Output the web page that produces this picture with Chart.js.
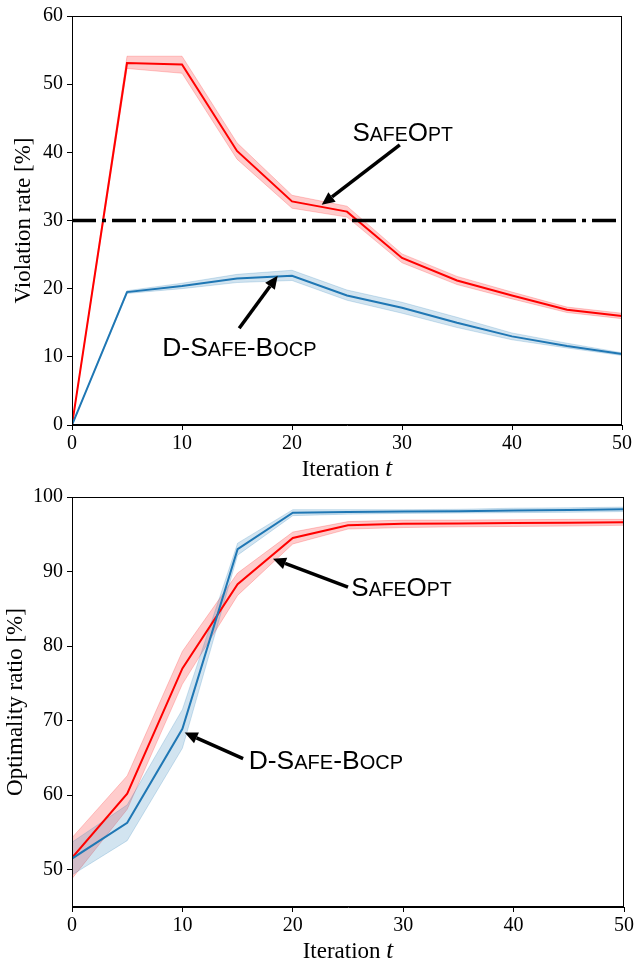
<!DOCTYPE html>
<html>
<head>
<meta charset="utf-8">
<script src="https://cdn.jsdelivr.net/npm/chart.js@4.4.1/dist/chart.umd.min.js"></script>
<style>
  body { margin: 0; background: #fff; }
  .panel { position: absolute; left: 0; width: 644px; height: 480px; }
</style>
</head>
<body>
<div class="panel" style="top:0"><canvas id="violationChart" width="644" height="480"></canvas></div>
<div class="panel" style="top:480px"><canvas id="optimalityChart" width="644" height="480"></canvas></div>
<script>
// shared x values (iteration t)
const iterations = [0, 5, 10, 15, 20, 25, 30, 35, 40, 45, 50];

// top panel: violation rate [%]
const violSafeOpt   = [0, 53.1, 52.9, 40.2, 32.8, 31.3, 24.5, 21.2, 19.0, 16.9, 16.0];
const violSafeOptLo = [0, 52.3, 51.6, 39.0, 31.8, 30.5, 23.8, 20.6, 18.5, 16.5, 15.6];
const violSafeOptHi = [0, 54.1, 54.1, 41.4, 33.7, 32.1, 25.1, 21.8, 19.5, 17.3, 16.4];
const violBocp      = [0, 19.5, 20.4, 21.5, 21.9, 19.0, 17.2, 15.0, 13.0, 11.6, 10.4];
const violBocpLo    = [0, 19.3, 20.0, 20.9, 21.2, 18.3, 16.4, 14.3, 12.5, 11.3, 10.2];
const violBocpHi    = [0, 19.7, 20.8, 22.1, 22.7, 19.8, 18.0, 15.8, 13.5, 12.0, 10.6];
const thresholdX = [0, 50];
const thresholdY = [30, 30];
const violTicks = [0, 10, 20, 30, 40, 50, 60];

// bottom panel: optimality ratio [%]
const optSafeOpt   = [51.6, 60.2, 77.0, 88.3, 94.5, 96.2, 96.4, 96.45, 96.5, 96.55, 96.6];
const optSafeOptLo = [48.8, 58.1, 74.9, 86.8, 93.7, 95.7, 95.9, 96.0, 96.05, 96.1, 96.2];
const optSafeOptHi = [54.3, 62.6, 79.3, 89.8, 95.3, 96.7, 96.9, 96.9, 96.95, 97.0, 97.0];
const optBocp      = [51.5, 56.3, 68.9, 93.0, 97.9, 98.0, 98.05, 98.1, 98.2, 98.25, 98.35];
const optBocpLo    = [49.3, 53.9, 66.3, 92.2, 97.5, 97.7, 97.8, 97.85, 97.9, 97.95, 98.05];
const optBocpHi    = [53.7, 58.7, 71.5, 93.8, 98.3, 98.3, 98.3, 98.35, 98.5, 98.55, 98.65];
const optTicks = [50, 60, 70, 80, 90, 100];

const xTicks = [0, 10, 20, 30, 40, 50];

const RED = '#ff0000';
const RED_BAND = 'rgba(255, 0, 0, 0.2)';
const BLUE = '#1f77b4';
const BLUE_BAND = 'rgba(31, 119, 180, 0.2)';
const SERIF = '"Liberation Serif", "Times New Roman", serif';
const SANS = '"Liberation Sans", Arial, sans-serif';

const pts = (xs, ys) => xs.map((x, i) => ({ x: x, y: ys[i] }));

function lineSet(data, color, order) {
    return { data: pts(iterations, data), borderColor: color, borderWidth: 2, pointRadius: 0, fill: false, tension: 0, order: order };
}
function bandSets(lo, hi, color, order) {
    return [
        { data: pts(iterations, lo), borderColor: color, backgroundColor: color, borderWidth: 1, pointRadius: 0, fill: false, tension: 0, order: order },
        { data: pts(iterations, hi), borderColor: color, backgroundColor: color, borderWidth: 1, pointRadius: 0, fill: '-1', tension: 0, order: order }
    ];
}

// frame, axis titles and arrow annotations
const decorPlugin = {
    id: 'decor',
    afterDraw(chart) {
        const cfg = chart.options.plugins.decor;
        const ctx = chart.ctx;
        const a = chart.chartArea;
        const xs = chart.scales.x, ys = chart.scales.y;
        ctx.save();
        ctx.strokeStyle = '#000';
        ctx.lineWidth = 1;
        ctx.strokeRect(a.left + 0.5, a.top + 0.5, a.right - a.left - 1, a.bottom - a.top - 1);

        // x title with italic t
        ctx.fillStyle = '#000';
        ctx.textBaseline = 'alphabetic';
        ctx.font = '23px ' + SERIF;
        const w1 = ctx.measureText('Iteration ').width;
        ctx.font = 'italic 25px ' + SERIF;
        const w2 = ctx.measureText('t').width;
        let tx = (a.left + a.right) / 2 - (w1 + w2) / 2;
        const ty = a.bottom + 51;
        ctx.font = '23px ' + SERIF;
        ctx.fillText('Iteration ', tx, ty);
        ctx.font = 'italic 25px ' + SERIF;
        ctx.fillText('t', tx + w1, ty);

        // y title
        ctx.save();
        ctx.translate(cfg.yTitleX, (a.top + a.bottom) / 2);
        ctx.rotate(-Math.PI / 2);
        ctx.font = '23px ' + SERIF;
        ctx.textAlign = 'center';
        ctx.textBaseline = 'middle';
        ctx.fillText(cfg.yTitle, 0, 0);
        ctx.restore();

        // annotations
        cfg.notes.forEach(n => {
            const x0 = xs.getPixelForValue(n.tail[0]), y0 = ys.getPixelForValue(n.tail[1]);
            const x1 = xs.getPixelForValue(n.tip[0]), y1 = ys.getPixelForValue(n.tip[1]);
            const ang = Math.atan2(y1 - y0, x1 - x0);
            const head = 13, half = 6;
            const bx = x1 - head * Math.cos(ang), by = y1 - head * Math.sin(ang);
            ctx.strokeStyle = '#000';
            ctx.lineWidth = 3.5;
            ctx.beginPath();
            ctx.moveTo(x0, y0);
            ctx.lineTo(bx, by);
            ctx.stroke();
            ctx.fillStyle = '#000';
            ctx.beginPath();
            ctx.moveTo(x1, y1);
            ctx.lineTo(bx + half * Math.sin(ang), by - half * Math.cos(ang));
            ctx.lineTo(bx - half * Math.sin(ang), by + half * Math.cos(ang));
            ctx.closePath();
            ctx.fill();

            // small-caps label
            let px = xs.getPixelForValue(n.text[0]);
            const py = ys.getPixelForValue(n.text[1]);
            ctx.textAlign = 'left';
            ctx.textBaseline = 'alphabetic';
            n.parts.forEach(p => {
                ctx.font = p[1] + 'px ' + SANS;
                ctx.fillText(p[0], px, py);
                px += ctx.measureText(p[0]).width;
            });
        });
        ctx.restore();
    }
};

const safeOptParts = [['S', 26], ['AFE', 19.5], ['O', 26], ['PT', 19.5]];
const bocpParts = [['D-S', 26.5], ['AFE', 20], ['-B', 26.5], ['OCP', 20]];

function baseOptions(yMin, yMax, yTickList, yWidth, yTitle, yTitleX, notes) {
    return {
        responsive: false,
        animation: false,
        layout: { padding: { top: 16, right: 22, left: 0, bottom: 0 } },
        plugins: {
            legend: { display: false },
            tooltip: { enabled: false },
            decor: { yTitle: yTitle, yTitleX: yTitleX, notes: notes }
        },
        scales: {
            x: {
                type: 'linear', min: 0, max: 50,
                afterBuildTicks: s => { s.ticks = xTicks.map(v => ({ value: v })); },
                afterFit: s => { s.height = 55; },
                grid: { display: true, drawOnChartArea: false, drawTicks: true, tickLength: 5, color: '#000' },
                border: { display: true, color: '#000', width: 1 },
                ticks: { color: '#000', font: { family: SERIF, size: 20 }, padding: 2, maxRotation: 0 }
            },
            y: {
                type: 'linear', min: yMin, max: yMax,
                afterBuildTicks: s => { s.ticks = yTickList.map(v => ({ value: v })); },
                afterFit: s => { s.width = yWidth; },
                grid: { display: true, drawOnChartArea: false, drawTicks: true, tickLength: 5, color: '#000' },
                border: { display: true, color: '#000', width: 1 },
                ticks: { color: '#000', font: { family: SERIF, size: 20 }, padding: 4 }
            }
        }
    };
}

new Chart(document.getElementById('violationChart').getContext('2d'), {
    type: 'line',
    data: {
        datasets: [
            { data: pts(thresholdX, thresholdY), borderColor: '#000', borderWidth: 3.5, borderDash: [24, 6, 4, 6], pointRadius: 0, fill: false, order: 0 },
            lineSet(violBocp, BLUE, 1),
            lineSet(violSafeOpt, RED, 2),
            ...bandSets(violBocpLo, violBocpHi, BLUE_BAND, 3),
            ...bandSets(violSafeOptLo, violSafeOptHi, RED_BAND, 4)
        ]
    },
    options: baseOptions(0, 60, violTicks, 72, 'Violation rate [%]', 24, [
        { text: [25.5, 41.6], tail: [29.8, 41.1], tip: [22.7, 32.3], parts: safeOptParts },
        { text: [8.2, 10.1], tail: [15.2, 14.2], tip: [18.7, 21.9], parts: bocpParts }
    ]),
    plugins: [decorPlugin]
});

const opt2 = baseOptions(45, 100, optTicks, 72, 'Optimality ratio [%]', 16, [
    { text: [25.3, 86.7], tail: [25.0, 87.9], tip: [18.2, 91.7], parts: safeOptParts },
    { text: [16.0, 63.5], tail: [15.5, 64.9], tip: [10.2, 68.4], parts: bocpParts }
]);
opt2.layout.padding.top = 17;
opt2.layout.padding.right = 20;
opt2.scales.x.afterFit = s => { s.height = 53; };

new Chart(document.getElementById('optimalityChart').getContext('2d'), {
    type: 'line',
    data: {
        datasets: [
            lineSet(optBocp, BLUE, 1),
            lineSet(optSafeOpt, RED, 2),
            ...bandSets(optBocpLo, optBocpHi, BLUE_BAND, 3),
            ...bandSets(optSafeOptLo, optSafeOptHi, RED_BAND, 4)
        ]
    },
    options: opt2,
    plugins: [decorPlugin]
});
</script>
</body>
</html>
